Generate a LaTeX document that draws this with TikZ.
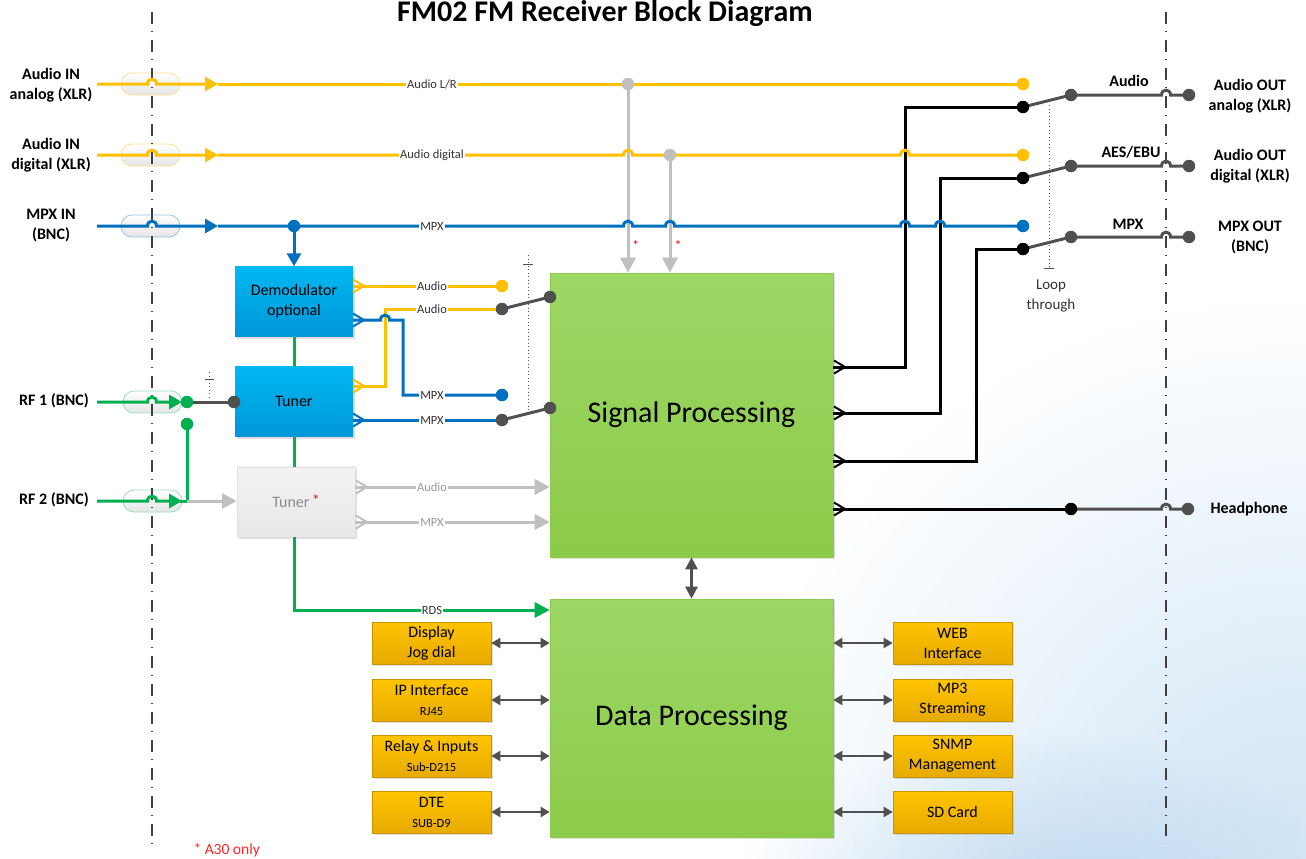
\documentclass[tikz,border=0pt]{standalone}
\usepackage{fontspec}
\setmainfont{Carlito}
\usetikzlibrary{arrows.meta,shadows}
\definecolor{cY}{HTML}{FFC000}
\definecolor{cB}{HTML}{0070C0}
\definecolor{cG}{HTML}{00B050}
\definecolor{cGr}{HTML}{C0C0C0}
\definecolor{cDk}{HTML}{505050}
\definecolor{cLab}{HTML}{333333}
\definecolor{cDD}{HTML}{3F3F3F}
\definecolor{cCloud}{HTML}{D3E6F5}
\definecolor{bTop}{HTML}{00B8F1}
\definecolor{bBot}{HTML}{0096D8}
\definecolor{gTop}{HTML}{9DD866}
\definecolor{gBot}{HTML}{8CCA4A}
\definecolor{oTop}{HTML}{FFC400}
\definecolor{oBot}{HTML}{E7AA00}
\definecolor{oBrd}{HTML}{C89400}
\newcommand\jmpH[2]{-- (#1-4.5,#2) .. controls (#1-4.5,#2-6.5) and (#1+4.5,#2-6.5) .. (#1+4.5,#2)}
\newcommand\fsz[2]{\fontsize{#1}{#2}\selectfont}
\newcommand\forkR[3]{\draw[#1,line width=2pt,line join=miter] (#2,#3-6.5) -- (#2+11,#3) -- (#2,#3+6.5);}
\begin{document}
\begin{tikzpicture}[x=1pt,y=-1pt,
  sig/.style={line width=3pt},
  ylw/.style={sig,draw=cY},
  blu/.style={sig,draw=cB},
  grn/.style={sig,draw=cG},
  gry/.style={sig,draw=cGr},
  blk/.style={sig,draw=black},
  dkg/.style={sig,draw=cDk},
  dot/.style={circle,inner sep=0pt,minimum size=12.5pt,fill=#1,draw=none},
  tipA/.style={-{Triangle[length=13pt,width=14pt]}},
  tipG/.style={-{Triangle[length=15pt,width=15pt]}},
  dbl/.style={line width=2pt,draw=cDk,{Triangle[length=9pt,width=10pt]}-{Triangle[length=9pt,width=10pt]}},
  lbl/.style={fill=white,inner sep=0.8pt,text=cLab,font=\fsz{12.5}{14}},
  glbl/.style={lbl,text=black!40},
  side/.style={align=center,font=\bfseries\fsz{16}{20}},
  pill/.style={rounded corners=11pt,minimum width=59pt,minimum height=22pt,top color=white,bottom color=black!10,draw=#1,line width=0.8pt},
  shad/.style={drop shadow={shadow xshift=2pt,shadow yshift=-2pt,opacity=0.25}},
  bluebox/.style={shad,minimum width=118pt,minimum height=70pt,top color=bTop,bottom color=bBot,align=center,font=\fsz{16}{20}},
  graybox/.style={shad,minimum width=118pt,minimum height=70pt,top color=black!5,bottom color=black!9,draw=black!12,text=black!45,font=\fsz{16}{20}},
  greenbox/.style={shad,minimum width=283pt,top color=gTop,bottom color=gBot,draw=gBot,line width=0.6pt,font=\fsz{30}{34}},
  obox/.style={shad,minimum width=119pt,minimum height=42pt,top color=oTop,bottom color=oBot,draw=oBrd,line width=0.6pt,align=center,font=\fsz{16}{20}},
  dashdot/.style={draw=cDD,line width=1.2pt,dash pattern=on 12pt off 7pt on 1pt off 8pt},
  linkdots/.style={draw=cDk,line width=0.9pt,dash pattern=on 1pt off 2.5pt},
  tick/.style={draw=cDk,line width=0.9pt},
  ast/.style={text=red,font=\fsz{14}{14},inner sep=0pt},
]
\useasboundingbox (0,0) rectangle (1306,859);
\clip (0,0) rectangle (1306,859);
\fill[white] (0,0) rectangle (1306,859);
% background clouds
\begin{scope}[blend mode=multiply]
\shade[inner color=cCloud,outer color=white] (1290,830) ellipse [x radius=560pt,y radius=540pt];
\shade[inner color=cCloud,outer color=white] (1040,905) ellipse [x radius=300pt,y radius=180pt];
\end{scope}

% title
\node[font=\bfseries\fsz{30}{34},anchor=base] (title) at (605,22) {FM02 FM Receiver Block Diagram};

% pills
\node[pill=cY!45] (pA) at (150.5,84) {};
\node[pill=cY!45] (pD) at (150.5,155) {};
\node[pill=cB!40] (pM) at (150.5,226) {};
\node[pill=cG!40] (pR1) at (152.5,402) {};
\node[pill=cG!40] (pR2) at (152.5,501) {};

% dash-dot axes
\coordinate (axL1) at (152,12); \coordinate (axL2) at (152,850);
\coordinate (axR1) at (1166,12); \coordinate (axR2) at (1166,843);
\draw[dashdot] (axL1) -- (axL2);
\draw[dashdot] (axR1) -- (axR2);

% boxes
\node[greenbox,minimum height=284pt] (SP) at (691.5,415) {Signal Processing};
\node[greenbox,minimum height=238pt] (DP) at (691.5,718) {Data Processing};
\node[bluebox] (DEM) at (294,301.5) {Demodulator\\optional};
\node[bluebox] (TUN) at (294,401.7) {Tuner};
\node[graybox] (TUN2) at (296,501.7) {Tuner\,\raisebox{2pt}{\color{red}\fsz{15}{15}*}};
\node[obox] (DJ) at (431.5,643) {Display\\Jog dial};
\node[obox] (IP) at (431.5,700) {IP Interface\\{\fsz{12.5}{14}RJ45}};
\node[obox] (RI) at (431.5,756) {Relay \& Inputs\\{\fsz{12.5}{14}Sub-D215}};
\node[obox] (DTE) at (431.5,812) {DTE\\{\fsz{12.5}{14}SUB-D9}};
\node[obox] (WEB) at (952.5,643) {WEB\\Interface};
\node[obox] (MP3) at (952.5,700) {MP3\\Streaming};
\node[obox] (SNMP) at (952.5,756) {SNMP\\Management};
\node[obox] (SD) at (952.5,812) {SD Card};

% data links
\foreach \n in {DJ,IP,RI,DTE} \draw[dbl] (\n.east) -- (\n.east -| DP.west);
\foreach \n in {WEB,MP3,SNMP,SD} \draw[dbl] (DP.east |- \n.west) -- (\n.west);
\draw[line width=2.5pt,draw=cDk,{Triangle[length=12pt,width=12pt]}-{Triangle[length=12pt,width=12pt]}] (SP.south) -- (DP.north);

% coordinates
\coordinate (inA) at (97,84);  \coordinate (arA) at (218,84);  \coordinate (eA) at (1023,84);
\coordinate (inD) at (97,155); \coordinate (arD) at (218,155); \coordinate (eD) at (1023,155);
\coordinate (inM) at (97,226); \coordinate (arM) at (218,226); \coordinate (eM) at (1023,226);
\coordinate (tA) at (628,84); \coordinate (tD) at (670,155); \coordinate (tM) at (294,226);
\coordinate (oA) at (1023,107); \coordinate (oE) at (1023,178); \coordinate (oP) at (1023,249);
\coordinate (rA1) at (1071,95); \coordinate (rA2) at (1189,95);
\coordinate (rE1) at (1071,166); \coordinate (rE2) at (1189,166);
\coordinate (rP1) at (1071,237); \coordinate (rP2) at (1189,237);
\coordinate (hp1) at (1071,509); \coordinate (hp2) at (1188,509);
\coordinate (eDA) at (502,286); \coordinate (eDM) at (502,395);
\coordinate (sw1a) at (502,309); \coordinate (sw1b) at (550,297);
\coordinate (sw2a) at (502,420); \coordinate (sw2b) at (550,408);
\coordinate (inR1) at (97,402); \coordinate (arR1) at (182,402);
\coordinate (inR2) at (97,501); \coordinate (arR2) at (182,501);
\coordinate (nR1) at (187,402); \coordinate (nR2) at (187,424); \coordinate (jR2) at (187,501);
\coordinate (nT1) at (234,402);
\coordinate (rds) at (294,610);

% gray taps
\draw[gry,tipG] (tA) -- (tA |- SP.north);
\draw[gry,tipG] (tD) -- (tD |- SP.north);
\node[ast] (astA) at (635.5,246) {*};
\node[ast] (astD) at (678,246) {*};

% black outputs
\draw[blk] (SP.east |- 0,367) -- (905,367) -- (905,107) -- (oA);
\draw[blk] (SP.east |- 0,413) -- (940,413) -- (940,178) -- (oE);
\draw[blk] (SP.east |- 0,461) -- (976,461) -- (976,249) -- (oP);
\draw[blk] (SP.east |- 0,509) -- (hp1);
\forkR{black}{834}{367}
\forkR{black}{834}{413}
\forkR{black}{834}{461}
\forkR{black}{834}{509}

% input lines
\draw[ylw,tipA] (inA) \jmpH{152}{84} -- (arA);
\draw[ylw] (arA) -- (eA);
\draw[ylw,tipA] (inD) \jmpH{152}{155} -- (arD);
\draw[ylw] (arD) \jmpH{628}{155} \jmpH{905}{155} -- (eD);
\draw[blu,tipA] (inM) \jmpH{152}{226} -- (arM);
\draw[blu] (arM) \jmpH{628}{226} \jmpH{670}{226} \jmpH{905}{226} \jmpH{940}{226} -- (eM);
\draw[blu,tipA] (tM) -- (DEM.north);
\node[lbl] (lAL) at (432,84) {Audio L/R};
\node[lbl] (lAD) at (432,155) {Audio digital};
\node[lbl] (lM) at (432,226) {MPX};

% demodulator / tuner outputs
\draw[ylw] (DEM.east |- 0,286) -- (eDA);
\draw[ylw] (TUN.east |- 0,386) -- (385,386) -- (385,309) -- (sw1a);
\draw[blu] (DEM.east |- 0,320) \jmpH{385}{320} -- (403,320) -- (403,395) -- (eDM);
\draw[blu] (TUN.east |- 0,420) -- (sw2a);
\draw[gry,tipG] (TUN2.east |- 0,487) -- (SP.west |- 0,487);
\draw[gry,tipG] (TUN2.east |- 0,522) -- (SP.west |- 0,522);
\forkR{cY}{353}{286}
\forkR{cB}{353}{320}
\forkR{cY}{353}{386}
\forkR{cB}{353}{420}
\forkR{cGr}{356}{487}
\forkR{cGr}{356}{522}
\node[lbl] (lDA) at (432,286) {Audio};
\node[lbl] (lTA) at (432,309) {Audio};
\node[lbl] (lDM) at (432,395) {MPX};
\node[lbl] (lTM) at (432,420) {MPX};
\node[glbl] (lGA) at (432,487) {Audio};
\node[glbl] (lGM) at (432,522) {MPX};

% RF inputs
\draw[grn,tipA] (inR1) \jmpH{152}{402} -- (arR1);
\draw[grn,tipA] (inR2) \jmpH{152}{501} -- (arR2);
\draw[grn] (180,501) -- (jR2) -- (nR2);
\draw[gry,tipG] (jR2) -- (TUN2.west |- jR2);
\draw[dkg] (nR1) -- (nT1);

% green tuner chain and RDS
\draw[grn] (DEM.south) -- (TUN.north);
\draw[grn] (TUN.south) -- (TUN.south |- TUN2.north);
\draw[grn,tipG] (TUN.south |- TUN2.south) -- (rds) -- (DP.west |- rds);
\node[lbl] (lRDS) at (432,610) {RDS};

% switches
\draw[dkg] (sw1a) -- (sw1b);
\draw[dkg] (sw2a) -- (sw2b);
\draw[dkg] (oA) -- (rA1);
\draw[dkg] (rA1) \jmpH{1166}{95} -- (rA2);
\draw[dkg] (oE) -- (rE1);
\draw[dkg] (rE1) \jmpH{1166}{166} -- (rE2);
\draw[dkg] (oP) -- (rP1);
\draw[dkg] (rP1) \jmpH{1166}{237} -- (rP2);
\draw[dkg] (hp1) \jmpH{1166}{509} -- (hp2);

% linkage dotted lines
\draw[linkdots] (528,255) -- (528,412);
\draw[tick] (523,264) -- (533,264);
\draw[linkdots] (209,372) -- (209,397);
\draw[tick] (204.5,379) -- (213.5,379);
\draw[linkdots] (1049,105) -- (1049,268);
\draw[tick] (1044,268) -- (1054,268);

% dots
\foreach \p in {eA,eD,eDA} \node[dot=cY] (d\p) at (\p) {};
\foreach \p in {eM,tM,eDM} \node[dot=cB] (d\p) at (\p) {};
\foreach \p in {tA,tD} \node[dot=cGr] (d\p) at (\p) {};
\foreach \p in {nR1,nR2} \node[dot=cG] (d\p) at (\p) {};
\foreach \p in {nT1,sw1a,sw1b,sw2a,sw2b,rA1,rA2,rE1,rE2,rP1,rP2,hp2} \node[dot=cDk] (d\p) at (\p) {};
\foreach \p in {oA,oE,oP,hp1} \node[dot=black] (d\p) at (\p) {};

% side labels
\node[side] (LA) at (51,85) {Audio IN\\analog (XLR)};
\node[side] (LD) at (51,155) {Audio IN\\digital (XLR)};
\node[side] (LM) at (51,226) {MPX IN\\(BNC)};
\node[side] (LR1) at (54,401) {RF 1 (BNC)};
\node[side] (LR2) at (54,500) {RF 2 (BNC)};
\node[side] (RA) at (1250,96) {Audio OUT\\analog (XLR)};
\node[side] (RD) at (1250,166) {Audio OUT\\digital (XLR)};
\node[side] (RM) at (1250,237) {MPX OUT\\(BNC)};
\node[side,anchor=west] (RH) at (1207,509) {Headphone};
\node[side] (sA) at (1129,81) {Audio};
\node[side] (sE) at (1131,152) {AES/EBU};
\node[side] (sM) at (1128,224) {MPX};
\node[align=center,text=cLab,font=\fsz{15}{20}] (loop) at (1051,296) {Loop\\through};
\node[anchor=west,text=red!85!white,font=\fsz{15.5}{18}] (note) at (190,850) {* A30 only};
\end{tikzpicture}
\end{document}
